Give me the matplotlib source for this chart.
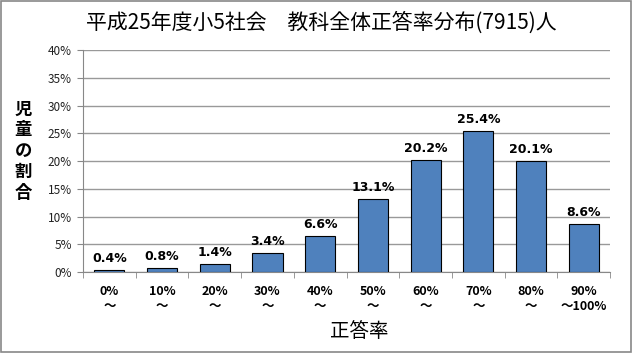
import matplotlib.pyplot as plt
import numpy as np
from matplotlib.patches import Rectangle

plt.rcParams['font.family'] = ['Noto Sans CJK JP', 'DejaVu Sans']

# ----------------------------- data -----------------------------
categories = ["0%\n～", "10%\n～", "20%\n～", "30%\n～", "40%\n～",
              "50%\n～", "60%\n～", "70%\n～", "80%\n～", "90%\n～100%"]
shares = [0.4, 0.8, 1.4, 3.4, 6.6, 13.1, 20.2, 25.4, 20.1, 8.6]
y_ticks = [0, 5, 10, 15, 20, 25, 30, 35, 40]

fig = plt.figure(figsize=(6.33, 3.53), dpi=100)
fig.patches.append(Rectangle((0.002, 0.003), 0.995, 0.993, transform=fig.transFigure,
                             fill=False, edgecolor="#888888", linewidth=1.2))

ax = fig.add_axes([0.131, 0.229, 0.833, 0.629])
x = np.arange(len(shares))
ax.bar(x, shares, width=0.57, color="#4F81BD", edgecolor="black", linewidth=0.8, zorder=3)
for xi, v in zip(x, shares):
    ax.text(xi, v + 0.9, f"{v:.1f}%", ha="center", va="bottom", fontsize=9,
            fontweight="semibold", family=["DejaVu Sans"])

ax.set_xlim(-0.5, len(shares) - 0.5)
ax.set_ylim(0, 40)
ax.set_yticks(y_ticks)
ax.set_yticklabels([f"{t}%" for t in y_ticks], fontsize=8.5, color="#222222")
ax.yaxis.grid(True, color="#999999", linewidth=1.0, zorder=0)
ax.set_xticks(x)
ax.set_xticklabels(categories, fontsize=9, fontweight="semibold", linespacing=1.25)
ax.set_xticks(np.arange(-0.5, len(shares)), minor=True)
ax.tick_params(axis="x", which="major", length=0, pad=9)
ax.tick_params(axis="x", which="minor", length=4, color="#888888")
ax.tick_params(axis="y", length=4, color="#888888", pad=4)
for side in ["top", "right"]:
    ax.spines[side].set_visible(False)
ax.spines["left"].set_color("#888888")
ax.spines["bottom"].set_color("#888888")

fig.text(0.508, 0.935, "平成25年度小5社会　教科全体正答率分布(7915)人", ha="center", va="center",
         fontsize=15)
fig.text(0.567, 0.062, "正答率", ha="center", va="center", fontsize=14)
fig.text(0.037, 0.572, "児\n童\nの\n割\n合", ha="center", va="center", fontsize=12.5,
         fontweight="bold", linespacing=1.2)

fig.savefig("out.png", dpi=100)
